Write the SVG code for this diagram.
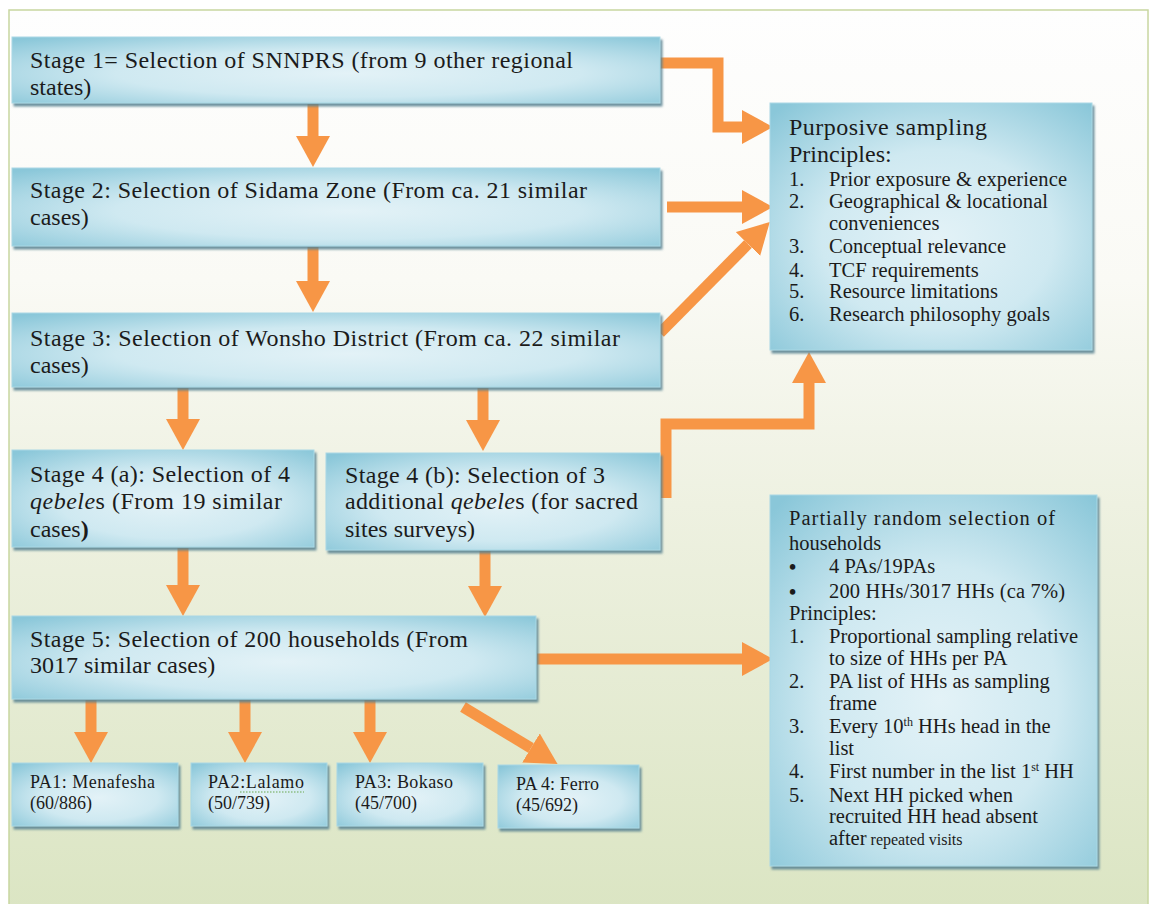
<svg xmlns="http://www.w3.org/2000/svg" width="1151" height="904" viewBox="0 0 1151 904">
<defs>
<linearGradient id="bg" x1="0" y1="0" x2="0" y2="1">
<stop offset="0" stop-color="#fefefe"/>
<stop offset="0.3" stop-color="#fafaf5"/>
<stop offset="0.55" stop-color="#eef1e1"/>
<stop offset="1" stop-color="#dbe5c3"/>
</linearGradient>
<radialGradient id="boxg" cx="0.52" cy="0.55" r="0.72">
<stop offset="0" stop-color="#e3f2f7"/>
<stop offset="0.5" stop-color="#cfe9f1"/>
<stop offset="1" stop-color="#8ac7d9"/>
</radialGradient>
<filter id="sh" x="-5%" y="-10%" width="115%" height="130%">
<feDropShadow dx="2" dy="3" stdDeviation="1.2" flood-color="#55808f" flood-opacity="0.85"/>
</filter>
<marker id="ah" viewBox="0 0 31 34" markerWidth="31" markerHeight="34" refX="0" refY="17" orient="auto" markerUnits="userSpaceOnUse">
<path d="M0,0 L31,17 L0,34 Z" fill="#f79646"/>
</marker>
<style>
.box{fill:url(#boxg);stroke:#a9d8e5;stroke-width:1;filter:url(#sh)}
.st{font-family:"Liberation Serif","Times New Roman",serif;font-size:24px;fill:#1b1b1b}
.pa{font-family:"Liberation Serif","Times New Roman",serif;font-size:18px;fill:#1b1b1b}
.h{font-family:"Liberation Serif","Times New Roman",serif;font-size:24px;fill:#1b1b1b}
.li{font-family:"Liberation Serif","Times New Roman",serif;font-size:20.5px;fill:#1b1b1b}
.con{fill:none;stroke:#f79646;stroke-width:11;marker-end:url(#ah)}
</style>
</defs>
<rect x="0" y="0" width="1151" height="904" fill="#ffffff"/>
<rect x="9" y="10" width="1139" height="900" fill="url(#bg)" stroke="#c8d6a0" stroke-width="1.5"/>

<g id="connectors">
<path class="con" d="M313,104 V136"/>
<path class="con" d="M313,247 V281"/>
<path class="con" d="M660,63 H718 V127 H742"/>
<path class="con" d="M667,207 H742"/>
<path class="con" d="M660,333 L748,244"/>
<path class="con" d="M666,498 V424 H809 V383"/>
<path class="con" d="M183,388 V419"/>
<path class="con" d="M483,388 V420"/>
<path class="con" d="M183,548 V585"/>
<path class="con" d="M485,551 V586"/>
<path class="con" d="M537,659 H742"/>
<path class="con" d="M91,700 V732"/>
<path class="con" d="M245,700 V732"/>
<path class="con" d="M370,700 V732"/>
<path class="con" d="M463,707 L531,748"/>
</g>

<g id="stage1">
<rect class="box" x="12" y="37" width="648" height="66"/>
<text class="st" x="30" y="68" textLength="543" lengthAdjust="spacing">Stage 1= Selection of SNNPRS (from 9 other regional</text>
<text class="st" x="30" y="95">states)</text>
</g>
<g id="stage2">
<rect class="box" x="12" y="168" width="648" height="78"/>
<text class="st" x="30" y="198" textLength="557" lengthAdjust="spacing">Stage 2: Selection of Sidama Zone (From ca. 21 similar</text>
<text class="st" x="30" y="225">cases)</text>
</g>
<g id="stage3">
<rect class="box" x="12" y="313" width="648" height="74"/>
<text class="st" x="30" y="346" textLength="590" lengthAdjust="spacing">Stage 3: Selection of Wonsho District (From ca. 22 similar</text>
<text class="st" x="30" y="373">cases)</text>
</g>
<g id="stage4a">
<rect class="box" x="12" y="450" width="302" height="97"/>
<text class="st" x="30" y="482" textLength="260" lengthAdjust="spacing">Stage 4 (a): Selection of 4</text>
<text class="st" x="30" y="509" textLength="252" lengthAdjust="spacing"><tspan font-style="italic">qebele</tspan>s (From 19 similar</text>
<text class="st" x="30" y="537">cases<tspan font-weight="bold">)</tspan></text>
</g>
<g id="stage4b">
<rect class="box" x="326" y="453" width="334" height="97"/>
<text class="st" x="345" y="483" textLength="260" lengthAdjust="spacing">Stage 4 (b): Selection of 3</text>
<text class="st" x="345" y="509" textLength="293" lengthAdjust="spacing">additional <tspan font-style="italic">qebele</tspan>s (for sacred</text>
<text class="st" x="345" y="537">sites surveys)</text>
</g>
<g id="stage5">
<rect class="box" x="12" y="616" width="524" height="83"/>
<text class="st" x="30" y="647" textLength="438" lengthAdjust="spacing">Stage 5: Selection of 200 households (From</text>
<text class="st" x="30" y="673">3017 similar cases)</text>
</g>
<g id="pa1">
<rect class="box" x="12" y="763" width="166" height="63"/>
<text class="pa" x="30" y="788" textLength="125" lengthAdjust="spacing">PA1: Menafesha</text>
<text class="pa" x="30" y="809">(60/886)</text>
</g>
<g id="pa2">
<rect class="box" x="191" y="763" width="136" height="63"/>
<text class="pa" x="208" y="788" textLength="96" lengthAdjust="spacing">PA2:Lalamo</text>
<path d="M240,792 H304" stroke="#6aa84f" stroke-width="1.2" stroke-dasharray="1.5,1.5" fill="none"/>
<text class="pa" x="208" y="809">(50/739)</text>
</g>
<g id="pa3">
<rect class="box" x="337" y="763" width="146" height="63"/>
<text class="pa" x="355" y="788" textLength="98" lengthAdjust="spacing">PA3: Bokaso</text>
<text class="pa" x="355" y="809">(45/700)</text>
</g>
<g id="pa4">
<rect class="box" x="498" y="765" width="141" height="63"/>
<text class="pa" x="516" y="790" textLength="83" lengthAdjust="spacing">PA 4: Ferro</text>
<text class="pa" x="516" y="811">(45/692)</text>
</g>

<g id="purposive">
<rect class="box" x="770" y="103" width="322" height="247"/>
<text class="h" x="789" y="135" textLength="198" lengthAdjust="spacing">Purposive sampling</text>
<text class="h" x="789" y="162">Principles:</text>
<text class="li" x="789" y="186">1.</text><text class="li" x="829" y="186" textLength="238" lengthAdjust="spacing">Prior exposure &amp; experience</text>
<text class="li" x="789" y="208">2.</text><text class="li" x="829" y="208" textLength="219" lengthAdjust="spacing">Geographical &amp; locational</text>
<text class="li" x="829" y="230">conveniences</text>
<text class="li" x="789" y="253">3.</text><text class="li" x="829" y="253">Conceptual relevance</text>
<text class="li" x="789" y="277">4.</text><text class="li" x="829" y="277">TCF requirements</text>
<text class="li" x="789" y="298">5.</text><text class="li" x="829" y="298">Resource limitations</text>
<text class="li" x="789" y="321">6.</text><text class="li" x="829" y="321" textLength="221" lengthAdjust="spacing">Research philosophy goals</text>
</g>

<g id="partial">
<rect class="box" x="770" y="495" width="327" height="371"/>
<text class="li" x="789" y="525" font-size="22" textLength="266" lengthAdjust="spacing">Partially random selection of</text>
<text class="li" x="789" y="550" font-size="22">households</text>
<text class="li" x="789" y="574" font-size="22" font-weight="bold">•</text><text class="li" x="829" y="573">4 PAs/19PAs</text>
<text class="li" x="789" y="599" font-size="22" font-weight="bold">•</text><text class="li" x="829" y="598" textLength="236" lengthAdjust="spacing">200 HHs/3017 HHs (ca 7%)</text>
<text class="li" x="789" y="620">Principles:</text>
<text class="li" x="789" y="643">1.</text><text class="li" x="829" y="643" textLength="249" lengthAdjust="spacing">Proportional sampling relative</text>
<text class="li" x="829" y="665">to size of HHs per PA</text>
<text class="li" x="789" y="688">2.</text><text class="li" x="829" y="688">PA list of HHs as sampling</text>
<text class="li" x="829" y="710">frame</text>
<text class="li" x="789" y="733">3.</text><text class="li" x="829" y="733">Every 10<tspan font-size="12" dy="-7">th</tspan><tspan dy="7"> HHs head in the</tspan></text>
<text class="li" x="829" y="755">list</text>
<text class="li" x="789" y="778">4.</text><text class="li" x="829" y="778">First number in the list 1<tspan font-size="12" dy="-7">st</tspan><tspan dy="7"> HH</tspan></text>
<text class="li" x="789" y="802">5.</text><text class="li" x="829" y="802">Next HH picked when</text>
<text class="li" x="829" y="823">recruited HH head absent</text>
<text class="li" x="829" y="845">after<tspan font-size="16"> repeated visits</tspan></text>
</g>
</svg>
